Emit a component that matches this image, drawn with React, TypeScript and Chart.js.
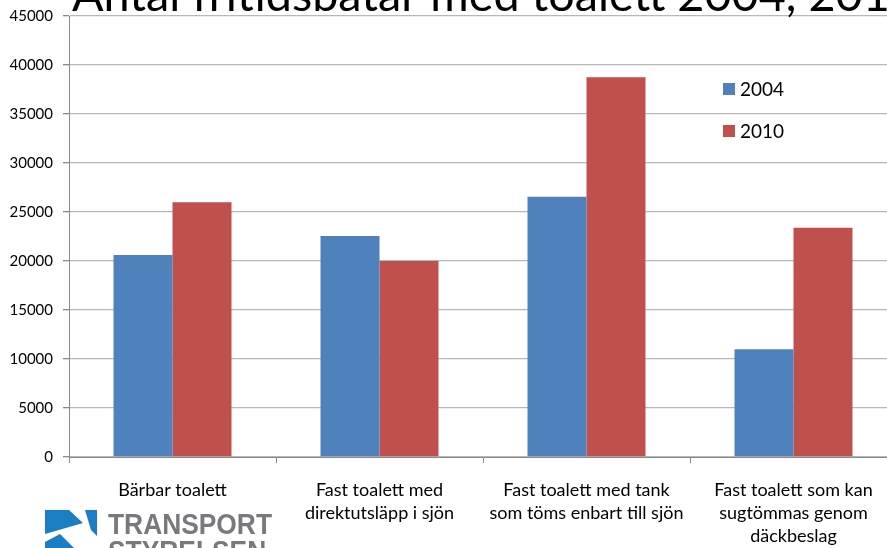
import React, { useEffect, useRef } from "react";
import { Chart, registerables } from "chart.js";

Chart.register(...registerables);

const titleText = "Antal fritidsbåtar med toalett 2004, 2010";
const categories: string[][] = [
  ["Bärbar toalett"],
  ["Fast toalett med", "direktutsläpp i sjön"],
  ["Fast toalett med tank", "som töms enbart till sjön"],
  ["Fast toalett som kan", "sugtömmas genom", "däckbeslag"],
];
const seriesNames = ["2004", "2010"];
const values2004 = [20600, 22550, 26550, 11000];
const values2010 = [26000, 20000, 38750, 23400];
const seriesColors = ["#4F81BD", "#C0504D"];
const yMin = 0;
const yMax = 45000;
const yStep = 5000;
const logoLines = ["TRANSPORT", "STYRELSEN"];

const FONT = "Lato, 'Open Sans', 'DejaVu Sans', sans-serif";

const decorPlugin = {
  id: "decor",
  afterDraw(chart: any) {
    const ctx = chart.ctx as CanvasRenderingContext2D;
    // Title (partly cut off at top)
    ctx.save();
    ctx.fillStyle = "#000";
    ctx.textBaseline = "alphabetic";
    ctx.textAlign = "left";
    let size = 44;
    ctx.font = `${size}px ${FONT}`;
    const w = ctx.measureText(titleText).width;
    size = size * (845 / w);
    ctx.font = `${size}px ${FONT}`;
    ctx.fillText(titleText, 72, 11);
    ctx.restore();

    // Legend
    ctx.save();
    const datasets = chart.data.datasets;
    datasets.forEach((ds: any, i: number) => {
      const cy = 89 + i * 42;
      ctx.fillStyle = ds.backgroundColor;
      ctx.fillRect(723, cy - 6, 12, 12);
      ctx.fillStyle = "#000";
      ctx.font = `19px ${FONT}`;
      ctx.textBaseline = "middle";
      ctx.textAlign = "left";
      ctx.fillText(ds.label, 740, cy + 1);
    });
    ctx.restore();

    // Logo
    ctx.save();
    ctx.fillStyle = "#1B7DC4";
    ctx.beginPath();
    ctx.moveTo(45, 510);
    ctx.lineTo(69, 510);
    ctx.lineTo(83, 523);
    ctx.lineTo(45, 534);
    ctx.closePath();
    ctx.fill();
    ctx.beginPath();
    ctx.moveTo(85, 510);
    ctx.lineTo(97, 510);
    ctx.lineTo(97, 536);
    ctx.lineTo(91, 530);
    ctx.closePath();
    ctx.fill();
    ctx.beginPath();
    ctx.moveTo(45, 548);
    ctx.lineTo(45, 542);
    ctx.lineTo(60, 534);
    ctx.lineTo(74, 548);
    ctx.closePath();
    ctx.fill();
    ctx.fillStyle = "#77797c";
    ctx.font = `bold 29px 'Liberation Sans', Arial, sans-serif`;
    ctx.textBaseline = "alphabetic";
    ctx.textAlign = "left";
    const tw = ctx.measureText(logoLines[0]).width;
    const sx = 164 / tw;
    ctx.translate(108, 0);
    ctx.scale(sx, 1);
    ctx.fillText(logoLines[0], 0, 534);
    ctx.fillText(logoLines[1], 0, 561);
    ctx.restore();
  },
};

export default function App() {
  const ref = useRef<HTMLCanvasElement>(null);
  useEffect(() => {
    if (!ref.current) return;
    const chart = new Chart(ref.current, {
      type: "bar",
      data: {
        labels: categories,
        datasets: [
          { label: seriesNames[0], data: values2004, backgroundColor: seriesColors[0], borderWidth: 0 },
          { label: seriesNames[1], data: values2010, backgroundColor: seriesColors[1], borderWidth: 0 },
        ],
      },
      options: {
        responsive: false,
        animation: false,
        devicePixelRatio: 1,
        layout: { padding: { top: 16, right: 3, left: 0, bottom: 0 } },
        plugins: {
          legend: { display: false },
          title: { display: false },
          tooltip: { enabled: false },
        },
        datasets: {
          bar: { categoryPercentage: 0.57, barPercentage: 1 },
        },
        scales: {
          x: {
            grid: {
              display: true,
              drawOnChartArea: false,
              drawTicks: true,
              tickLength: 6,
              color: "#888888",
              offset: true,
            },
            border: { color: "#888888", width: 1 },
            ticks: {
              color: "#000",
              font: { family: FONT, size: 18, lineHeight: 1.3 },
              padding: 15,
              maxRotation: 0,
              autoSkip: false,
            },
            afterFit(scale: any) {
              scale.height = 91;
            },
          },
          y: {
            min: yMin,
            max: yMax,
            grid: {
              color: "#b8b8b8",
              lineWidth: 1.3,
              tickLength: 6,
              tickColor: "#888888",
            },
            border: { color: "#888888", width: 1 },
            ticks: {
              stepSize: yStep,
              color: "#000",
              font: { family: FONT, size: 15, lineHeight: 0.6 },
              padding: 10,
              callback: (v: any) => String(v),
            },
            afterFit(scale: any) {
              scale.width = 69;
            },
          },
        },
      },
      plugins: [decorPlugin],
    });
    return () => chart.destroy();
  }, []);
  return (
    <div
      style={{
        position: "fixed",
        top: 0,
        left: 0,
        width: 887,
        height: 548,
        overflow: "hidden",
        background: "#fff",
      }}
    >
      <canvas ref={ref} width={900} height={548} style={{ width: 900, height: 548, display: "block" }} />
    </div>
  );
}
